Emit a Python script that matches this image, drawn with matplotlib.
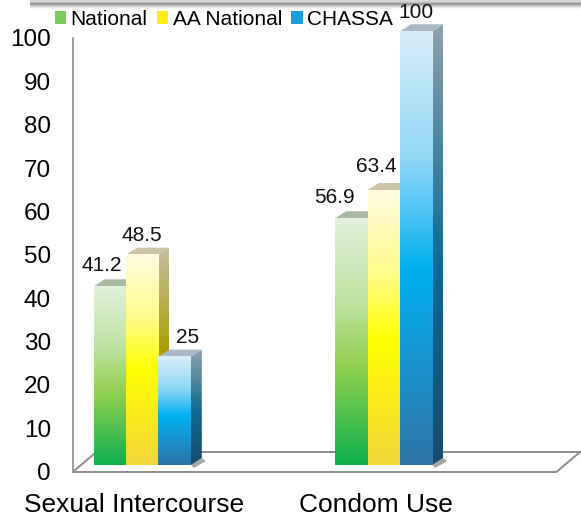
import numpy as np
import matplotlib
matplotlib.use('Agg')
import matplotlib.pyplot as plt
from matplotlib.colors import LinearSegmentedColormap
from matplotlib.patches import Polygon, Patch

plt.rcParams['font.family'] = ['Liberation Sans', 'DejaVu Sans']

# data
categories = ['Sexual Intercourse', 'Condom Use']
series = ['National', 'AA National', 'CHASSA']
national = [41.2, 56.9]
aa_national = [48.5, 63.4]
chassa = [25, 100]
values = [national, aa_national, chassa]
yticks = list(range(0, 101, 10))

# colours: front gradient (top -> bottom), side gradient, top face, legend
front_cols = [
    [(0.0, '#e2f2dc'), (0.35, '#bce29e'), (0.6, '#92d050'), (1.0, '#0db04e')],
    [(0.0, '#fffbe0'), (0.3, '#fffc8c'), (0.55, '#ffff00'), (1.0, '#f3d53a')],
    [(0.0, '#d9eef9'), (0.3, '#8fd6f5'), (0.55, '#00b0f0'), (0.8, '#1b8ec8'), (1.0, '#2f74a3')],
]
side_cols = [
    [(0.0, '#a0b098'), (1.0, '#0a7a38')],
    [(0.0, '#c4bfa0'), (0.5, '#aa9c00'), (1.0, '#a08c20')],
    [(0.0, '#8fa2ac'), (0.55, '#0b6a94'), (1.0, '#1b4a6b')],
]
top_cols = ['#a9b9a2', '#cbc3a3', '#a9b9c5']
legend_cols = ['#7cca5c', '#ffee10', '#1c9ede']

W, H = 581, 519
fig = plt.figure(figsize=(W / 100, H / 100), dpi=100)

# grey strip at the very top (bottom of a slide box with its shadow)
deco = fig.add_axes([30 / W, 1 - 10 / H, (W - 30) / W, 10 / H])
strip = np.array([215, 208, 196, 150, 160, 190, 215, 235, 248, 255]) / 255
deco.imshow(np.repeat(strip[:, None], 2, axis=1), cmap='gray', vmin=0, vmax=1,
            aspect='auto', interpolation='bilinear')
deco.axis('off')

# main axes, pixel geometry
ax_left, ax_right = 73, 581
ax_zero, ax_hundred = 471.7, 38
sy = (ax_zero - ax_hundred) / 100          # px per value unit
cat_px, sx = 134.3, 241.4                  # px of category 0, px per category
ax = fig.add_axes([ax_left / W, (H - ax_zero) / H, (ax_right - ax_left) / W, ax_zero / H])
xlim = ((ax_left - cat_px) / sx, (ax_right - cat_px) / sx)
ylim = (0, 100 + ax_hundred / sy)

bar_w = 0.134
plane_dx, plane_dy = 8 / sx, 6.7 / sy      # bars sit a third into the floor
dep_x, dep_y = 11 / sx, 7 / sy             # bar depth

# floor
fl_x0, fl_x1 = xlim[0], (556.7 - cat_px) / sx
fdx, fdy = 24 / sx, 20.2 / sy
floor_kw = dict(color='#8c8c8c', lw=1.4, clip_on=False, zorder=1, solid_capstyle='butt')
ax.plot([fl_x0, fl_x1], [0, 0], **floor_kw)
ax.plot([fl_x0 + fdx, fl_x1 + fdx], [fdy, fdy], **floor_kw)
ax.plot([fl_x0, fl_x0 + fdx], [0, fdy], **floor_kw)
ax.plot([fl_x1, fl_x1 + fdx], [0, fdy], **floor_kw)

# label nudges in px (x from front-face centre, y of text centre above front top)
nudge_x = [[-8, 0, 13], [-17, -7.5, 0]]
nudge_y = [[23, 21, 21], [22, 25.7, 20]]


def grad(stops):
    return LinearSegmentedColormap.from_list('g', stops)(np.linspace(0, 1, 256))[:, None, :]


for i in range(len(categories)):
    z = 3
    for j in range(len(series)):
        v = values[j][i]
        x0 = i + (j - 1.5) * bar_w + plane_dx
        x1 = x0 + bar_w
        y0 = plane_dy
        y1 = y0 + v
        # side face
        side = Polygon([(x1, y0), (x1 + dep_x, y0 + dep_y), (x1 + dep_x, y1 + dep_y), (x1, y1)],
                       closed=True, facecolor='none', edgecolor='none', transform=ax.transData)
        ax.add_patch(side)
        im = ax.imshow(grad(side_cols[j]), extent=[x1, x1 + dep_x, y0, y1 + dep_y],
                       aspect='auto', origin='upper', interpolation='bilinear', zorder=z)
        im.set_clip_path(side)
        # top face
        ax.add_patch(Polygon([(x0, y1), (x0 + dep_x, y1 + dep_y), (x1 + dep_x, y1 + dep_y), (x1, y1)],
                             closed=True, facecolor=top_cols[j], edgecolor='none', zorder=z))
        # front face
        ax.imshow(grad(front_cols[j]), extent=[x0, x1, y0, y1], aspect='auto',
                  origin='upper', interpolation='bilinear', zorder=z + 1)
        # value label
        lx = (x0 + x1) / 2 + nudge_x[i][j] / sx
        ly = y1 + (nudge_y[i][j] - 7.2) / sy
        ax.text(lx, ly, f'{v:g}', ha='center', va='baseline', fontsize=15,
                color='#111111', zorder=10)
        z += 2
    # soft shadow under the side of the last bar
    xe = i + 1.5 * bar_w + plane_dx
    ax.add_patch(Polygon([(xe, plane_dy), (xe + dep_x, plane_dy + dep_y),
                          (xe + dep_x + 4 / sx, plane_dy + dep_y - 3 / sy),
                          (xe + 3 / sx, plane_dy - 3 / sy)],
                         closed=True, facecolor='#3a3a3a', alpha=0.45, edgecolor='none', zorder=2))

ax.set_xlim(*xlim)
ax.set_ylim(*ylim)
ax.set_facecolor('none')
for s in ['top', 'right', 'bottom']:
    ax.spines[s].set_visible(False)
ax.spines['left'].set_color('#8c8c8c')
ax.spines['left'].set_linewidth(1.2)
ax.spines['left'].set_bounds(0, 100)
ax.set_yticks(yticks)
ax.set_yticklabels([str(t) for t in yticks])
ax.set_xticks(range(len(categories)))
ax.set_xticklabels(categories)
ax.tick_params(axis='y', length=0, pad=16, labelsize=17.5)
ax.tick_params(axis='x', length=0, pad=15, labelsize=19)

handles = [Patch(facecolor=c, edgecolor='none') for c in legend_cols]
fig.legend(handles, series, loc='upper left', bbox_to_anchor=(55 / W, 1 - 10 / H),
           ncol=3, frameon=False, fontsize=15, handlelength=0.55, handleheight=0.6,
           handletextpad=0.2, columnspacing=0.45, borderpad=0, borderaxespad=0)

fig.savefig('out.png', dpi=100)
